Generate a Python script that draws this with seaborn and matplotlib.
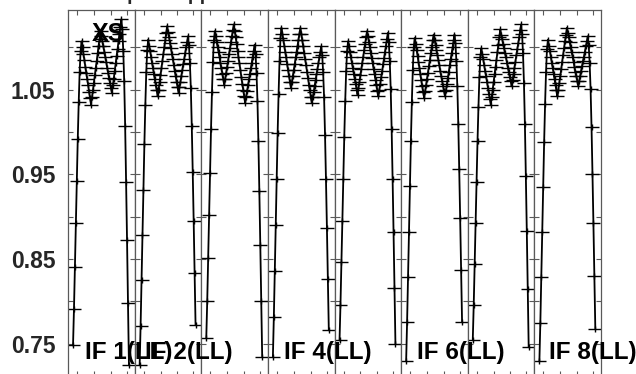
import numpy as np
import pandas as pd
import matplotlib
matplotlib.use("Agg")
import matplotlib.pyplot as plt
from matplotlib.path import Path
import seaborn as sns

# channel numbers shared by every IF panel
channels = list(range(1, 61))

# bandpass-corrected amplitude per channel, one list per IF
if1 = [0.748, 0.791, 0.841, 0.892, 0.942, 0.992, 1.035, 1.071, 1.096, 1.107,
       1.100, 1.092, 1.085, 1.077, 1.070, 1.062, 1.055, 1.047, 1.040, 1.032,
       1.041, 1.049, 1.058, 1.067, 1.076, 1.084, 1.093, 1.102, 1.110, 1.119,
       1.113, 1.107, 1.101, 1.095, 1.089, 1.083, 1.076, 1.070, 1.064, 1.058,
       1.052, 1.046, 1.055, 1.063, 1.072, 1.081, 1.090, 1.098, 1.107, 1.116,
       1.124, 1.133, 1.121, 1.096, 1.060, 1.007, 0.941, 0.872, 0.798, 0.725]
if2 = [0.725, 0.771, 0.825, 0.879, 0.932, 0.986, 1.032, 1.071, 1.097, 1.109,
       1.102, 1.096, 1.089, 1.082, 1.076, 1.069, 1.062, 1.055, 1.049, 1.042,
       1.050, 1.059, 1.067, 1.075, 1.084, 1.092, 1.100, 1.108, 1.117, 1.125,
       1.118, 1.112, 1.105, 1.099, 1.092, 1.086, 1.079, 1.072, 1.066, 1.059,
       1.053, 1.046, 1.053, 1.059, 1.066, 1.073, 1.080, 1.086, 1.093, 1.100,
       1.106, 1.113, 1.103, 1.082, 1.052, 1.007, 0.953, 0.895, 0.833, 0.772]
if3 = [0.757, 0.800, 0.851, 0.902, 0.952, 1.003, 1.047, 1.083, 1.108, 1.119,
       1.113, 1.106, 1.100, 1.094, 1.088, 1.081, 1.075, 1.069, 1.062, 1.056,
       1.063, 1.070, 1.077, 1.084, 1.092, 1.099, 1.106, 1.113, 1.120, 1.127,
       1.119, 1.112, 1.104, 1.096, 1.088, 1.081, 1.073, 1.065, 1.057, 1.050,
       1.042, 1.034, 1.041, 1.048, 1.055, 1.062, 1.069, 1.075, 1.082, 1.089,
       1.096, 1.103, 1.092, 1.070, 1.037, 0.989, 0.930, 0.867, 0.801, 0.735]
if4 = [0.735, 0.782, 0.836, 0.890, 0.945, 0.999, 1.045, 1.084, 1.111, 1.123,
       1.116, 1.109, 1.102, 1.095, 1.088, 1.080, 1.073, 1.066, 1.059, 1.052,
       1.059, 1.066, 1.073, 1.080, 1.088, 1.095, 1.102, 1.109, 1.116, 1.123,
       1.116, 1.108, 1.101, 1.093, 1.086, 1.079, 1.071, 1.064, 1.056, 1.049,
       1.041, 1.034, 1.041, 1.047, 1.054, 1.061, 1.068, 1.074, 1.081, 1.088,
       1.094, 1.101, 1.091, 1.071, 1.041, 0.997, 0.944, 0.887, 0.826, 0.766]
if5 = [0.754, 0.796, 0.846, 0.895, 0.945, 0.994, 1.036, 1.072, 1.096, 1.107,
       1.101, 1.094, 1.088, 1.082, 1.076, 1.069, 1.063, 1.057, 1.050, 1.044,
       1.052, 1.059, 1.067, 1.074, 1.082, 1.089, 1.097, 1.104, 1.112, 1.119,
       1.113, 1.106, 1.100, 1.093, 1.087, 1.081, 1.074, 1.068, 1.061, 1.055,
       1.048, 1.042, 1.050, 1.057, 1.065, 1.072, 1.080, 1.087, 1.095, 1.102,
       1.110, 1.117, 1.106, 1.084, 1.051, 1.003, 0.945, 0.882, 0.816, 0.750]
if6 = [0.730, 0.776, 0.829, 0.882, 0.936, 0.989, 1.035, 1.073, 1.100, 1.111,
       1.104, 1.097, 1.090, 1.083, 1.076, 1.068, 1.061, 1.054, 1.047, 1.040,
       1.048, 1.055, 1.063, 1.070, 1.078, 1.085, 1.093, 1.100, 1.108, 1.115,
       1.109, 1.103, 1.097, 1.091, 1.085, 1.079, 1.072, 1.066, 1.060, 1.054,
       1.048, 1.042, 1.049, 1.057, 1.064, 1.071, 1.079, 1.086, 1.093, 1.100,
       1.108, 1.115, 1.105, 1.084, 1.054, 1.010, 0.956, 0.898, 0.837, 0.776]
if7 = [0.755, 0.796, 0.844, 0.893, 0.941, 0.989, 1.030, 1.065, 1.089, 1.099,
       1.092, 1.086, 1.079, 1.072, 1.066, 1.059, 1.052, 1.045, 1.039, 1.032,
       1.041, 1.050, 1.059, 1.068, 1.077, 1.085, 1.094, 1.103, 1.112, 1.121,
       1.115, 1.110, 1.104, 1.099, 1.093, 1.088, 1.082, 1.076, 1.071, 1.065,
       1.060, 1.054, 1.061, 1.069, 1.076, 1.083, 1.091, 1.098, 1.105, 1.112,
       1.120, 1.127, 1.116, 1.093, 1.058, 1.009, 0.948, 0.883, 0.815, 0.746]
if8 = [0.730, 0.775, 0.829, 0.882, 0.935, 0.988, 1.033, 1.071, 1.098, 1.109,
       1.102, 1.096, 1.089, 1.082, 1.076, 1.069, 1.062, 1.055, 1.049, 1.042,
       1.050, 1.058, 1.066, 1.074, 1.083, 1.091, 1.099, 1.107, 1.115, 1.123,
       1.117, 1.112, 1.106, 1.100, 1.094, 1.089, 1.083, 1.077, 1.071, 1.066,
       1.060, 1.054, 1.060, 1.066, 1.072, 1.078, 1.084, 1.089, 1.095, 1.101,
       1.107, 1.113, 1.103, 1.082, 1.051, 1.006, 0.951, 0.892, 0.830, 0.768]

if_amps = [if1, if2, if3, if4, if5, if6, if7, if8]
if_labels = ["IF 1(LL)", "IF 2(LL)", "", "IF 4(LL)", "", "IF 6(LL)", "", "IF 8(LL)"]
y_ticks = [0.75, 0.80, 0.85, 0.90, 0.95, 1.00, 1.05, 1.10]
y_ticklabels = ["0.75", "", "0.85", "", "0.95", "", "1.05", ""]
title_text = "Ampl. vs. Chan.: bandpass applied"

# long table for seaborn
df = pd.concat([
    pd.DataFrame({"IF": i + 1, "chan": channels, "amp": amps})
    for i, amps in enumerate(if_amps)
], ignore_index=True)

sns.set_style("ticks")
plt.rcParams["font.family"] = ["Liberation Sans", "DejaVu Sans"]
plt.rcParams["font.weight"] = "bold"

# plus sign with a wide horizontal arm, like the AIPS point symbol
plus = Path([(-1, 0), (1, 0), (0, -0.4), (0, 0.4)],
            [Path.MOVETO, Path.LINETO, Path.MOVETO, Path.LINETO])

W, H = 636, 374
fig = plt.figure(figsize=(W / 100, H / 100), dpi=100)
left, right, top, bottom = 68, 601, 10, 376
pw = (right - left) / 8
frame = "0.35"

for i in range(8):
    ax = fig.add_axes([(left + i * pw) / W, 1 - bottom / H, pw / W, (bottom - top) / H])
    sub = df[df["IF"] == i + 1]
    sns.lineplot(data=sub, x="chan", y="amp", ax=ax, color="black", lw=1.3,
                 marker=plus, markersize=10.5, markeredgewidth=1.0,
                 markeredgecolor="black", estimator=None, sort=False)
    ax.set_xlim(-4.3, 66)
    ax.set_ylim(0.712, 1.144)
    ax.set_xticks([5.2, 23.1, 40.7, 57.6])
    ax.set_yticks(y_ticks)
    ax.tick_params(axis="both", direction="in", top=True, bottom=True,
                   left=True, right=True, length=3.5, width=0.8,
                   color=frame, labelbottom=False)
    if i == 0:
        ax.set_yticklabels(y_ticklabels, fontsize=16.5, fontweight="bold")
        ax.tick_params(axis="y", pad=9)
    else:
        ax.tick_params(axis="y", labelleft=False)
    ax.set_xlabel("")
    ax.set_ylabel("")
    for sp in ax.spines.values():
        sp.set_color(frame)
        sp.set_linewidth(0.9)

# panel captions along the bottom
label_x = [85, 145, None, 284, None, 417, None, 549]
for lab, x in zip(if_labels, label_x):
    if lab:
        fig.text(x / W, 1 - 359 / H, lab, fontsize=17.5, fontweight="bold",
                 ha="left", va="baseline", color="black")

fig.text(108 / W, 1 - 34 / H, "XS", fontsize=18, fontweight="bold",
         ha="center", va="center", color="black")
fig.text(245 / W, 1 - 0.5 / H, title_text, fontsize=14, fontweight="bold",
         ha="right", va="baseline")

fig.savefig("out.png", dpi=100)
